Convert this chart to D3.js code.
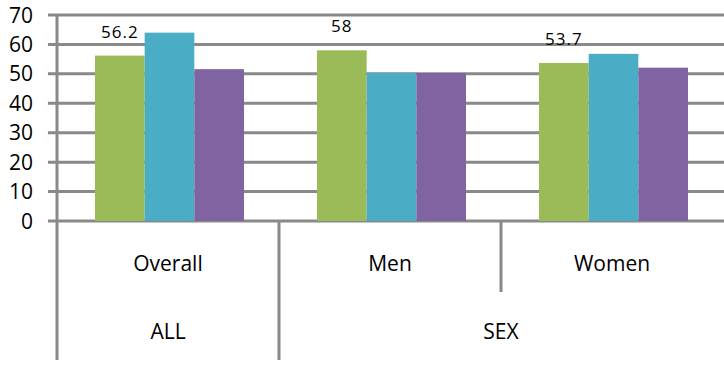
<!DOCTYPE html>
<html>
<head>
<meta charset="utf-8">
<script src="https://d3js.org/d3.v7.min.js"></script>
<style>
  body { margin: 0; background: #fff; }
  text { font-family: "Open Sans", Lato, sans-serif; fill: #000; }
</style>
</head>
<body>
<div id="chart"></div>
<script>
// data
var categories = ["Overall", "Men", "Women"];
var groups = [{ name: "ALL", span: 1 }, { name: "SEX", span: 2 }];
var seriesNames = ["s1", "s2", "s3"];
var series1 = [56.2, 58, 53.7];
var series2 = [64.0, 50.3, 56.8];
var series3 = [51.6, 50.3, 52.1];
var labels1 = ["56.2", "58", "53.7"];
var yTicks = [0, 10, 20, 30, 40, 50, 60, 70];
var colors = ["#9BBB59", "#4BACC6", "#8064A2"];

var width = 724, height = 367;
var margin = { top: 15, right: 1, bottom: 146, left: 57 };
var w = width - margin.left - margin.right,
    h = height - margin.top - margin.bottom;

var svg = d3.select("#chart").append("svg")
    .attr("width", width)
    .attr("height", height);

var g = svg.append("g")
    .attr("transform", "translate(" + margin.left + "," + margin.top + ")");

var x = d3.scaleBand().domain(categories).range([0, w]).paddingInner(0).paddingOuter(0);
var xs = d3.scaleBand().domain(seriesNames).range([38, x.bandwidth() - 35]).padding(0);
var y = d3.scaleLinear().domain([0, 70]).range([h, 0]);

var grey = "#898989";

// gridlines with little ticks on the left
g.selectAll(".grid")
    .data(yTicks)
    .enter()
    .append("line")
    .attr("x1", -9)
    .attr("x2", w + margin.right)
    .attr("y1", function(d) { return y(d); })
    .attr("y2", function(d) { return y(d); })
    .attr("stroke", grey)
    .attr("stroke-width", 3);

// y labels
g.selectAll(".ylab")
    .data(yTicks)
    .enter()
    .append("text")
    .attr("x", -24)
    .attr("y", function(d) { return y(d); })
    .attr("dy", "0.36em")
    .attr("text-anchor", "end")
    .style("font-size", "21px")
    .text(function(d) { return d; });

// bars
var allSeries = [series1, series2, series3];
var rows = [];
categories.forEach(function(c, i) {
    allSeries.forEach(function(s, j) {
        rows.push({ cat: c, ser: seriesNames[j], v: s[i], col: colors[j] });
    });
});

g.selectAll(".bar")
    .data(rows)
    .enter()
    .append("rect")
    .attr("x", function(d) { return x(d.cat) + xs(d.ser); })
    .attr("y", function(d) { return y(d.v); })
    .attr("width", xs.bandwidth())
    .attr("height", function(d) { return h - y(d.v); })
    .attr("fill", function(d) { return d.col; });

// labels on the first series
g.selectAll(".dlab")
    .data(categories)
    .enter()
    .append("text")
    .attr("x", function(d) { return x(d) + xs("s1") + xs.bandwidth() / 2; })
    .attr("y", function(d, i) { return y(series1[i]) - 18; })
    .attr("text-anchor", "middle")
    .style("font-size", "17px")
    .style("letter-spacing", "1px")
    .text(function(d, i) { return labels1[i]; });

// y axis line
g.append("line")
    .attr("x1", 0).attr("x2", 0)
    .attr("y1", 0).attr("y2", h + 139)
    .attr("stroke", grey).attr("stroke-width", 3);

// category separators
var sepLong = [], sepShort = [];
var idx = 0;
groups.forEach(function(gr) {
    idx += gr.span;
    if (idx < categories.length) sepLong.push(idx);
});
categories.forEach(function(c, i) {
    if (i > 0 && sepLong.indexOf(i) < 0) sepShort.push(i);
});

g.selectAll(".sepL")
    .data(sepLong)
    .enter()
    .append("line")
    .attr("x1", function(d) { return x(categories[d]); })
    .attr("x2", function(d) { return x(categories[d]); })
    .attr("y1", h)
    .attr("y2", h + 139)
    .attr("stroke", grey).attr("stroke-width", 3);

g.selectAll(".sepS")
    .data(sepShort)
    .enter()
    .append("line")
    .attr("x1", function(d) { return x(categories[d]); })
    .attr("x2", function(d) { return x(categories[d]); })
    .attr("y1", h)
    .attr("y2", h + 71)
    .attr("stroke", grey).attr("stroke-width", 3);

// category labels
g.selectAll(".clab")
    .data(categories)
    .enter()
    .append("text")
    .attr("x", function(d) { return x(d) + x.bandwidth() / 2; })
    .attr("y", h + 50)
    .attr("text-anchor", "middle")
    .style("font-size", "21px")
    .text(function(d) { return d; });

// group labels
var start = 0;
groups.forEach(function(gr) {
    var x0 = x(categories[start]);
    var x1 = x(categories[start + gr.span - 1]) + x.bandwidth();
    g.append("text")
        .attr("x", (x0 + x1) / 2)
        .attr("y", h + 118)
        .attr("text-anchor", "middle")
        .style("font-size", "21px")
        .text(gr.name);
    start += gr.span;
});
</script>
</body>
</html>
